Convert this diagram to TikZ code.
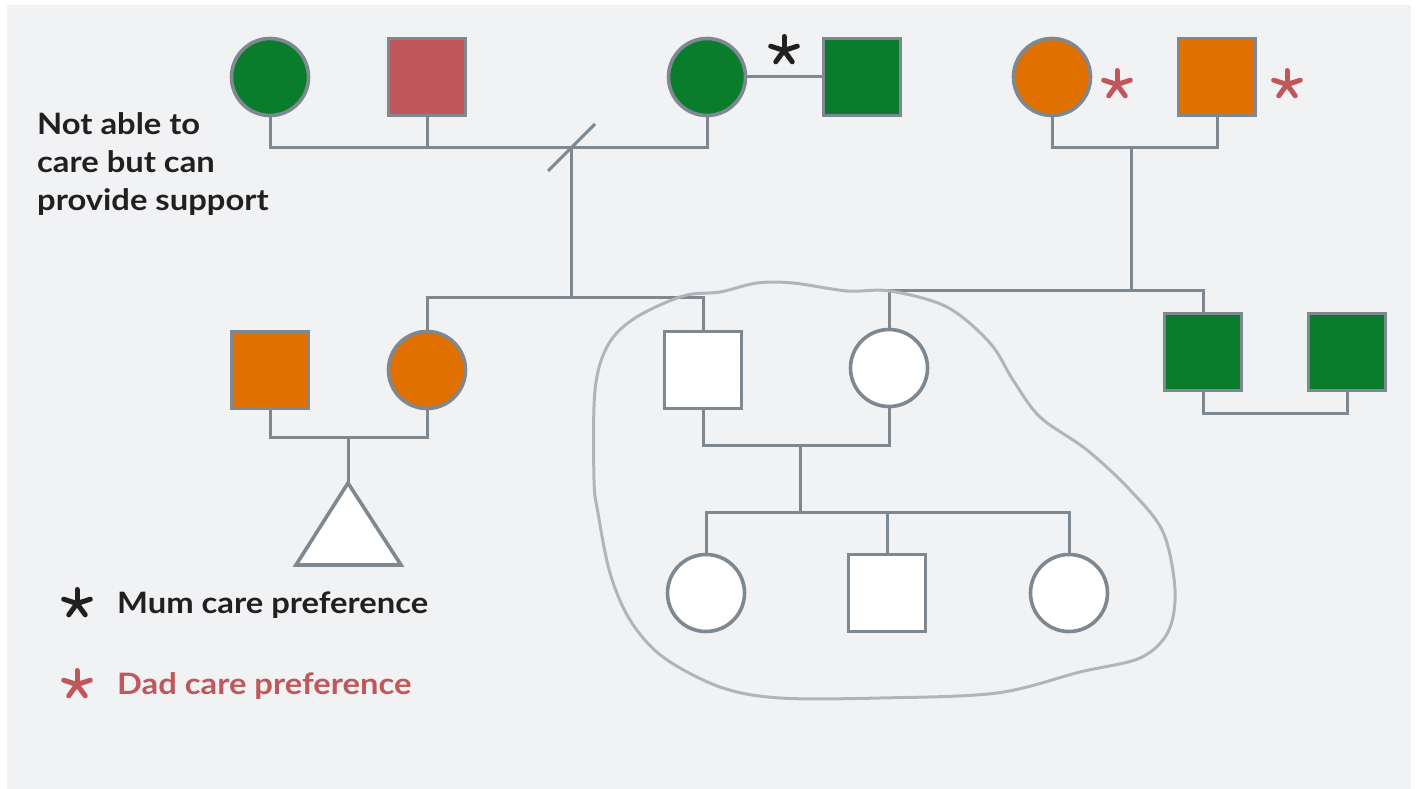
\documentclass[tikz,border=0pt]{standalone}
\usepackage{fontspec}
\setmainfont{Lato}[FakeStretch=1.11]
\begin{document}
\begin{tikzpicture}[x=1pt,y=-1pt,
  ln/.style={draw=lc, line width=3pt},
  person/.style={draw=lc, line width=3.6pt, minimum size=77pt, inner sep=0pt},
  fem/.style={person, circle},
  mal/.style={person, rectangle},
  aster/.pic={\foreach \a in {-90,-18,54,126,198}
    \draw[line width=5pt, line cap=round, #1] (0,0) -- (\a:14);},
  lbl/.style={anchor=base west, inner sep=0pt, font=\bfseries\fontsize{29.5}{36}\selectfont}]
\definecolor{lc}{HTML}{7D8891}
\definecolor{bg}{HTML}{F1F2F4}
\definecolor{grn}{HTML}{0A7D2C}
\definecolor{rdd}{HTML}{C0575A}
\definecolor{org}{HTML}{E07000}
\definecolor{ink}{HTML}{231F20}
\definecolor{blob}{HTML}{B2B4B7}

% canvas
\useasboundingbox (0,0) rectangle (1416,789);
\fill[white] (0,0) rectangle (1416,789);
\fill[bg] (7,5) rectangle (1411,789);

% people
\node[fem, fill=grn] (g1) at (270,77) {};
\node[mal, fill=rdd] (r1) at (427,77) {};
\node[fem, fill=grn] (g2) at (707,77) {};
\node[mal, fill=grn] (g3) at (862,77) {};
\node[fem, fill=org] (o1) at (1052,77) {};
\node[mal, fill=org] (o2) at (1217,77) {};

\node[mal, fill=org] (o3) at (270,370) {};
\node[fem, fill=org] (o4) at (427,370) {};
\node[mal, fill=white] (w1) at (703,370) {};
\node[fem, fill=white] (w2) at (889,368) {};
\node[mal, fill=grn] (s1) at (1203,352) {};
\node[mal, fill=grn] (s2) at (1347,352) {};

\node[fem, fill=white] (k1) at (706,593) {};
\node[mal, fill=white] (k2) at (887,593) {};
\node[fem, fill=white] (k3) at (1069,593) {};

% unborn child
\coordinate (t) at (348,483);
\draw[draw=lc, line width=3.6pt, fill=white, line join=miter] (t) -- (296,565) -- (401,565) -- cycle;

% junction points
\coordinate (m1) at (571,148);
\coordinate (m2) at (1131,148);
\coordinate (m3) at (348,437);
\coordinate (m4) at (800,445);

% top generation
\draw[ln] (g1.south) |- (g2.south |- m1) -- (g2.south);
\draw[ln] (r1.south) -- (r1.south |- m1);
\draw[ln] (m1) ++(-23,23) -- ++(47,-47);
\draw[ln] (m1) -- (m1 |- 0,297);
\draw[ln] (g2.east) -- (g3.west);
\draw[ln] (o1.south) |- (o2.south |- m2) -- (o2.south);
\draw[ln] (m2) -- (m2 |- 0,290);

% middle generation
\draw[ln] (o4.north) |- (w1.north |- 0,297) -- (w1.north);
\draw[ln] (w2.north) |- (s1.north |- 0,290) -- (s1.north);
\draw[ln] (o3.south) |- (o4.south |- m3) -- (o4.south);
\draw[ln] (m3) -- (t);
\draw[ln] (w1.south) |- (w2.south |- m4) -- (w2.south);
\draw[ln] (s1.south) |- (s2.south |- 0,413) -- (s2.south);

% children
\draw[ln] (m4) -- (m4 |- 0,512);
\draw[ln] (k1.north) |- (k3.north |- 0,512) -- (k3.north);
\draw[ln] (k2.north) -- (k2.north |- 0,512);

% household outline
\draw[blob, line width=3pt] plot[smooth cycle, tension=0.55] coordinates {
  (594,480) (595,390) (608,345) (635,318) (683,296) (720,292) (757,283)
  (793,283) (847,291) (890,291) (947,307) (990,343) (1013,380) (1040,417)
  (1087,450) (1130,490) (1163,532) (1175,590) (1168,632) (1140,658)
  (1080,672) (997,693) (880,698) (780,698) (720,687) (663,657) (630,620)
  (610,573) (598,513)};

% preferences
\pic at (784,50.5) {aster=ink};
\pic at (1117,84.5) {aster=rdd};
\pic at (1287,84.5) {aster=rdd};

% notes and legend
\node[lbl, text=ink] (n1) at (37,135) {Not able to};
\node[lbl, text=ink] (n2) at (37,172.5) {care but can};
\node[lbl, text=ink] (n3) at (37,210) {provide support};

\pic at (77,603.5) {aster=ink};
\node[lbl, text=ink] (l1) at (117,613) {Mum care preference};
\pic at (77,684.5) {aster=rdd};
\node[lbl, text=rdd] (l2) at (117,694) {Dad care preference};
\end{tikzpicture}
\end{document}
